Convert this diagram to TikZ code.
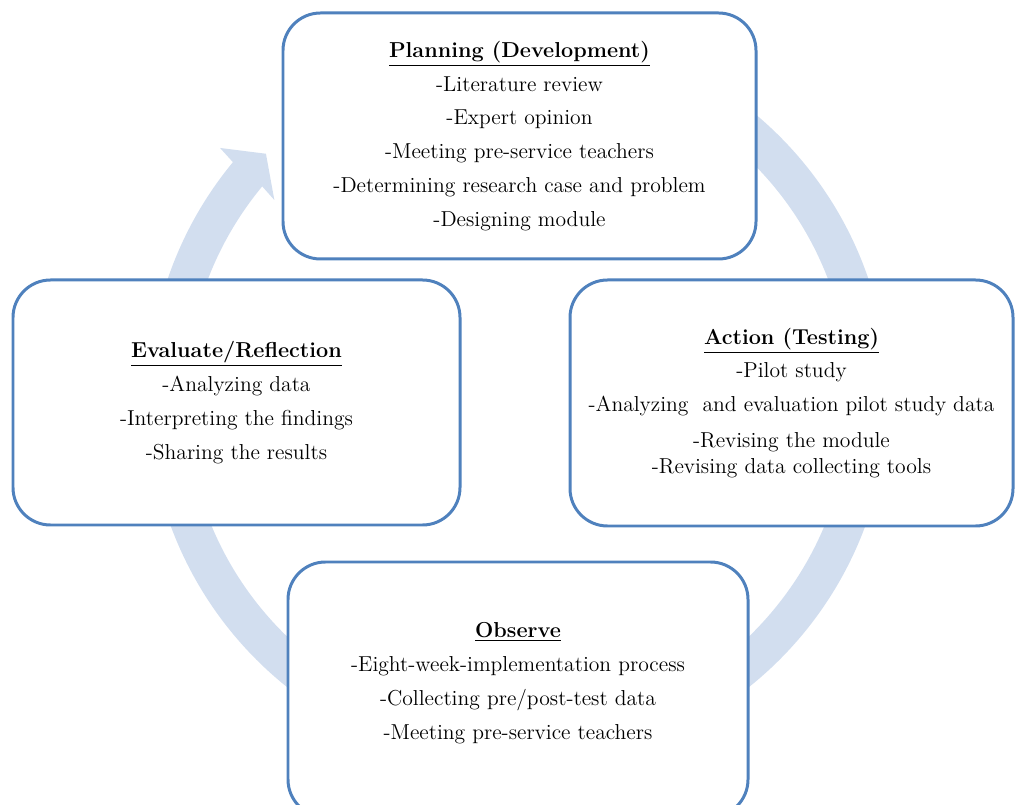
\documentclass[tikz,border=0pt]{standalone}
\usepackage{tikz}
\usetikzlibrary{calc}
\definecolor{boxline}{RGB}{79,129,189}
\definecolor{arrowfill}{RGB}{210,222,239}

\begin{document}
\begin{tikzpicture}[
    stagebox/.style={draw=boxline, line width=1.7pt, fill=white, rounded corners=0.75cm,
        align=center, inner sep=0pt, font=\fontsize{12.3}{19.3}\selectfont},
    ]
    \useasboundingbox (0,0) rectangle (20.3,16.08);
    \clip (0,0) rectangle (20.3,16.08);
    % circular arrow
    \coordinate (C) at (10.36,8.12);
    \fill[arrowfill] ($(C)+(90:7.40)$) arc[start angle=90, end angle=-219.6, radius=7.40]
        -- ($(C)+(140.0:7.78)$) -- ($(C)+(135.9:7.02)$) -- ($(C)+(140.9:6.28)$)
        -- ($(C)+(-219.6:6.64)$) arc[start angle=-219.6, end angle=90, radius=6.64] -- cycle;
    % stages
    \node[stagebox, minimum width=9.46cm, minimum height=4.92cm] (plan) at (10.39,13.36)
        {\underline{\textbf{Planning (Development)}}\\-Literature review\\-Expert opinion\\
         -Meeting pre-service teachers\\-Determining research case and problem\\-Designing module};
    \node[stagebox, minimum width=8.86cm, minimum height=4.92cm] (act) at (15.83,8.02)
        {\underline{\textbf{Action (Testing)}}\\-Pilot study\\-Analyzing~ and evaluation pilot study data\\[1.1pt]
         -Revising the module\\[-4.5pt]-Revising data collecting tools};
    \node[stagebox, minimum width=9.20cm, minimum height=5.10cm, text depth=0.35cm] (obs) at (10.36,2.29)
        {\underline{\textbf{Observe}}\\-Eight-week-implementation process\\-Collecting pre/post-test data\\
         -Meeting pre-service teachers};
    \node[stagebox, minimum width=8.94cm, minimum height=4.90cm] (eval) at (4.73,8.03)
        {\underline{\textbf{Evaluate/Reflection}}\\-Analyzing data\\-Interpreting the findings\\-Sharing the results};
\end{tikzpicture}
\end{document}
